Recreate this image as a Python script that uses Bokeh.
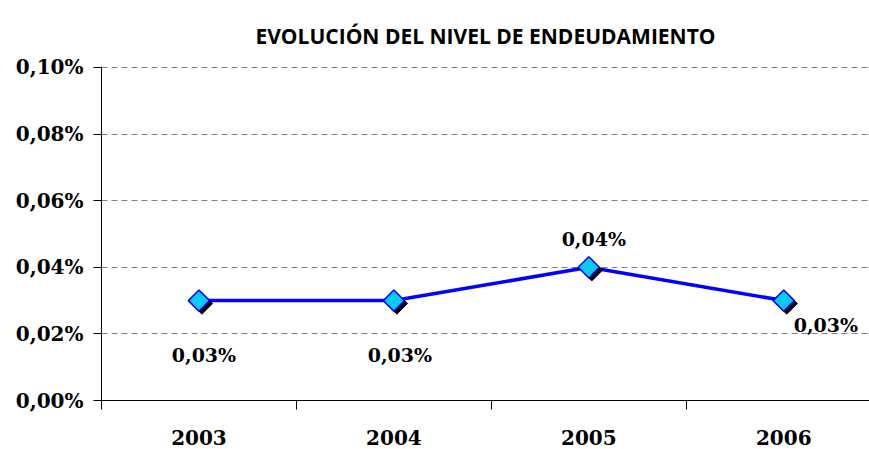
import math
from bokeh.plotting import figure
from bokeh.models import ColumnDataSource, Range1d, FixedTicker
from bokeh.transform import dodge
from bokeh.core.properties import value
from bokeh.embed import file_html
from bokeh.resources import INLINE

# data
years = ["2003", "2004", "2005", "2006"]
values = [0.03, 0.03, 0.04, 0.03]          # percent
y_ticks = [0.0, 0.02, 0.04, 0.06, 0.08, 0.10]
y_tick_labels = ["0,00%", "0,02%", "0,04%", "0,06%", "0,08%", "0,10%"]
title = "EVOLUCIÓN DEL NIVEL DE ENDEUDAMIENTO"

xpos = [i + 0.5 for i in range(len(years))]
labels = [("%.2f%%" % v).replace(".", ",") for v in values]

# label placement (style)
lab_dx = [5, 6, 5, 10]
lab_dy = [54, 54, -28, 24]
lab_align = ["center", "center", "center", "left"]

src = ColumnDataSource(dict(x=xpos, y=values, lab=labels, dx=lab_dx, dy=lab_dy, al=lab_align))

p = figure(width=869, height=449, output_backend="svg", toolbar_location=None,
           x_range=Range1d(0, 3.94), y_range=Range1d(0, 0.1003),
           min_border_left=101, min_border_right=0, min_border_top=66, min_border_bottom=49)
p.outline_line_color = None
p.background_fill_color = "white"
p.border_fill_color = "white"

p.title.text = title
p.title.align = "center"
p.title.vertical_align = "top"
p.title.text_font = "Open Sans"
p.title.text_font_style = "bold"
p.title.text_font_size = "21px"
p.title.text_color = "black"
p.title.standoff = 30

# grid
p.xgrid.grid_line_color = None
p.ygrid.ticker = FixedTicker(ticks=y_ticks)
p.ygrid.grid_line_color = "#808080"
p.ygrid.grid_line_dash = "6 4"
p.ygrid.grid_line_width = 1

# y axis
ya = p.yaxis[0]
ya.ticker = FixedTicker(ticks=y_ticks)
ya.major_label_overrides = {t: l for t, l in zip(y_ticks, y_tick_labels)}
ya.major_label_text_font = "DejaVu Serif"
ya.major_label_text_font_style = "bold"
ya.major_label_text_font_size = "20px"
ya.major_label_text_color = "black"
ya.major_label_standoff = 10
ya.major_tick_out = 8
ya.major_tick_in = 0
ya.minor_tick_line_color = None
ya.axis_line_color = "black"
ya.major_tick_line_color = "black"

# x axis
xa = p.xaxis[0]
xa.ticker = FixedTicker(ticks=xpos, minor_ticks=[0, 1, 2, 3])
xa.major_label_overrides = {x: y for x, y in zip(xpos, years)}
xa.major_label_text_font = "DejaVu Serif"
xa.major_label_text_font_style = "bold"
xa.major_label_text_font_size = "20px"
xa.major_label_text_color = "black"
xa.major_label_standoff = 20
xa.major_tick_line_color = None
xa.minor_tick_out = 9
xa.minor_tick_in = 0
xa.minor_tick_line_color = "black"
xa.axis_line_color = "black"

# line
p.line("x", "y", source=src, line_color="#0000FF", line_width=3.5)

# marker shadow
p.scatter(x=dodge("x", 3 / 195.0, range=p.x_range), y=dodge("y", -3 * 0.1 / 334.0, range=p.y_range),
          source=src, marker="square", angle=math.pi / 4, size=15,
          fill_color="black", line_color="black")
# markers
p.scatter("x", "y", source=src, marker="square", angle=math.pi / 4, size=15,
          fill_color="#0ACBF8", line_color="#0000FF", line_width=1.5)

# data labels
p.text("x", "y", text="lab", source=src, x_offset="dx", y_offset="dy",
       text_align="al", text_baseline="middle",
       text_font=value("DejaVu Serif"), text_font_style="bold",
       text_font_size="19px", text_color="black")

open("out.html", "w").write(file_html(p, INLINE))
